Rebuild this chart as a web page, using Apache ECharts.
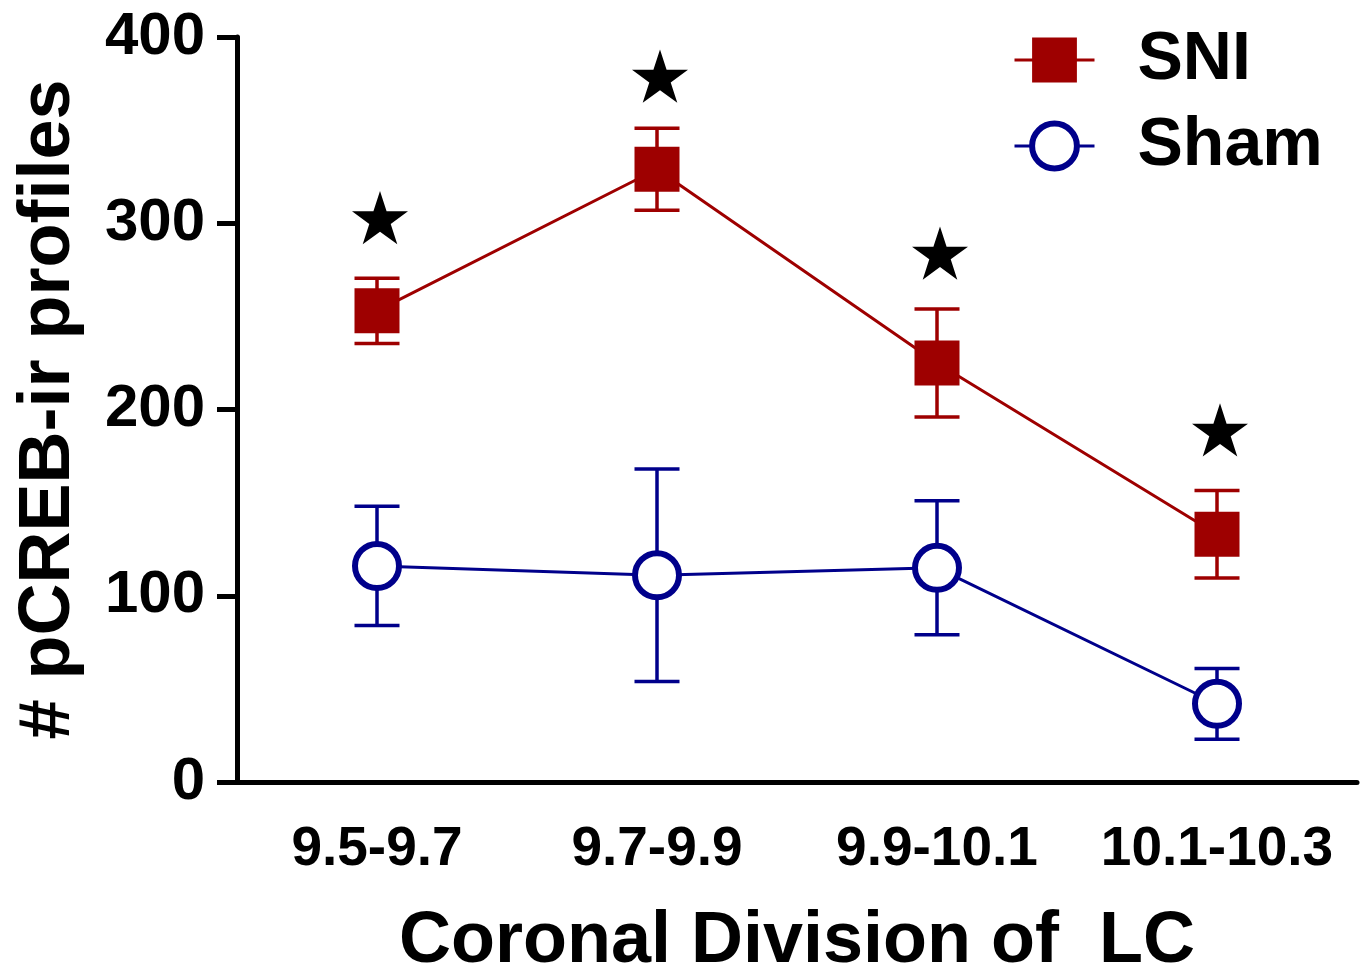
<!DOCTYPE html>
<html>
<head>
<meta charset="utf-8">
<script src="https://cdn.jsdelivr.net/npm/echarts@6/dist/echarts.min.js"></script>
<style>
  html, body { margin: 0; padding: 0; background: #fff; }
  #chart { width: 1365px; height: 969px; }
</style>
</head>
<body>
<div id="chart"></div>
<script>
// data
const categories = ["9.5-9.7", "9.7-9.9", "9.9-10.1", "10.1-10.3"];
const sniMean = [253, 329, 225, 133];
const sniErr = [17.5, 22, 29, 23.5];
const shamMean = [116, 111, 115, 42];
const shamErr = [32, 57, 36, 19];
const starValues = [303, 379, 284, 189];
const yTicks = [0, 100, 200, 300, 400];

const red = "#9e0000";
const navy = "#00008b";
const font = "Liberation Sans";

const starPath =
  "path://M50,0 L61.2,34.5 L97.6,34.5 L68.2,55.9 L79.4,90.5 L50,69.1 L20.6,90.5 L31.8,55.9 L2.4,34.5 L38.8,34.5 Z";

// error bars as [index, low, high]
const errData = (mean, err) =>
  mean.map((m, i) => [i, m - err[i], m + err[i]]);

const errorBars = (name, color, mean, err) => ({
  type: "custom",
  name: name + "-err",
  z: 1,
  silent: true,
  data: errData(mean, err),
  renderItem: function (params, api) {
    const lo = api.coord([api.value(0), api.value(1)]);
    const hi = api.coord([api.value(0), api.value(2)]);
    const half = 22.5;
    const style = { stroke: color, lineWidth: 3.5 };
    return {
      type: "group",
      children: [
        { type: "line", shape: { x1: lo[0], y1: lo[1], x2: hi[0], y2: hi[1] }, style: style },
        { type: "line", shape: { x1: lo[0] - half, y1: lo[1], x2: lo[0] + half, y2: lo[1] }, style: style },
        { type: "line", shape: { x1: hi[0] - half, y1: hi[1], x2: hi[0] + half, y2: hi[1] }, style: style },
      ],
    };
  },
});

const myChart = echarts.init(document.getElementById("chart"));

const option = {
  backgroundColor: "#fff",
  animation: false,
  textStyle: { fontFamily: font, fontWeight: "bold", color: "#000" },
  grid: { left: 237, right: 8, top: 37, bottom: 187, containLabel: false, outerBoundsMode: "none" },
  legend: {
    data: [
      { name: "SNI", itemStyle: { color: red } },
      { name: "Sham", itemStyle: { color: "#fff", borderColor: navy, borderWidth: 6 } },
    ],
    orient: "vertical",
    left: 1008,
    top: 21,
    itemWidth: 80,
    itemHeight: 56,
    itemGap: 18,
    lineStyle: { width: 3 },
    textStyle: { fontSize: 68, fontWeight: "bold", fontFamily: font, color: "#000", padding: [0, 0, 0, 38] },
  },
  xAxis: {
    type: "category",
    data: categories,
    boundaryGap: true,
    name: "Coronal Division of  LC",
    nameLocation: "middle",
    nameGap: 124,
    nameTextStyle: { fontSize: 72, fontWeight: "bold", fontFamily: font, color: "#000" },
    axisLine: { lineStyle: { color: "#000", width: 5 } },
    axisTick: { alignWithLabel: true, interval: 0, length: 20, lineStyle: { color: "#000", width: 5 } },
    axisLabel: { interval: 0, fontSize: 55, fontWeight: "bold", fontFamily: font, color: "#000", margin: 40 },
    splitLine: { show: false },
  },
  yAxis: {
    type: "value",
    min: yTicks[0],
    max: yTicks[yTicks.length - 1],
    interval: 100,
    name: "# pCREB-ir profiles",
    nameLocation: "middle",
    nameGap: 152,
    nameTextStyle: { fontSize: 72, fontWeight: "bold", fontFamily: font, color: "#000" },
    axisLine: { show: true, lineStyle: { color: "#000", width: 5 } },
    axisTick: { show: true, length: 20, lineStyle: { color: "#000", width: 5 } },
    axisLabel: { fontSize: 60, fontWeight: "bold", fontFamily: font, color: "#000", margin: 32 },
    splitLine: { show: false },
  },
  series: [
    errorBars("SNI", red, sniMean, sniErr),
    errorBars("Sham", navy, shamMean, shamErr),
    {
      name: "SNI",
      type: "line",
      z: 3,
      data: sniMean,
      symbol: "rect",
      symbolSize: 45,
      lineStyle: { color: red, width: 3 },
      itemStyle: { color: red },
    },
    {
      name: "Sham",
      type: "line",
      z: 3,
      data: shamMean,
      symbol: "circle",
      symbolSize: 44,
      lineStyle: { color: navy, width: 3 },
      itemStyle: { color: "#fff", borderColor: navy, borderWidth: 6 },
    },
    {
      name: "stars",
      type: "scatter",
      z: 4,
      data: starValues.map((v, i) => [i, v]),
      symbol: starPath,
      symbolKeepAspect: true,
      symbolSize: 56,
      symbolOffset: [3, 0],
      itemStyle: { color: "#000", opacity: 1 },
    },
  ],
};

myChart.setOption(option);
</script>
</body>
</html>
